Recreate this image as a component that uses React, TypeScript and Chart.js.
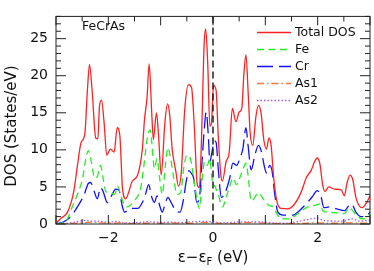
import React, { useEffect, useRef } from 'react';
import { Chart, registerables } from 'chart.js';

Chart.register(...registerables);

// ---- data ----
const totalE = [-3.0, -2.97, -2.9, -2.78, -2.66, -2.59, -2.52, -2.45, -2.40, -2.36, -2.31, -2.24, -2.20, -2.17, -2.13, -2.08, -2.03, -1.96, -1.89, -1.83, -1.78, -1.73, -1.67, -1.54, -1.44, -1.35, -1.31, -1.26, -1.22, -1.17, -1.14, -1.08, -1.04, -0.99, -0.92, -0.87, -0.83, -0.78, -0.71, -0.66, -0.61, -0.54, -0.47, -0.41, -0.36, -0.30, -0.26, -0.22, -0.17, -0.14, -0.10, -0.06, -0.03, 0.01, 0.06, 0.10, 0.15, 0.18, 0.25, 0.31, 0.37, 0.44, 0.50, 0.55, 0.59, 0.63, 0.67, 0.71, 0.76, 0.82, 0.87, 0.92, 0.97, 1.02, 1.07, 1.11, 1.16, 1.22, 1.30, 1.43, 1.56, 1.69, 1.78, 1.88, 1.94, 1.99, 2.04, 2.10, 2.14, 2.21, 2.32, 2.45, 2.51, 2.56, 2.62, 2.67, 2.73, 2.79, 2.85, 2.92, 3.0];
const totalDos = [0, 0.3, 0.8, 1.6, 4.4, 7.9, 11, 12.1, 18, 21.5, 18, 11.6, 11.5, 15.8, 16.7, 13.6, 9.3, 10.1, 9.7, 13.0, 11.9, 4.9, 3.4, 5.8, 6.6, 10.1, 14, 17.1, 21.6, 14.9, 11.4, 15.0, 11.9, 6.6, 13.6, 16.2, 14.9, 10.1, 7.1, 5.1, 6.6, 15.4, 18.8, 18.4, 13.6, 5.3, 4.9, 11.4, 24.1, 26.3, 21.5, 13.2, 13.6, 18.7, 18, 11.9, 6.6, 5.8, 8.4, 9.7, 15.6, 13.8, 15.1, 15.6, 20.2, 22.8, 18, 12.3, 10.6, 14.5, 16.0, 14.9, 11.4, 10.1, 11.6, 10.6, 6.2, 3.1, 2.1, 2.05, 2.7, 4.4, 6.2, 7.3, 8.4, 8.9, 8.2, 5.1, 4.4, 5.0, 4.7, 4.6, 3.8, 5.5, 6.6, 6.0, 3.6, 2.5, 2.2, 2.7, 3.8];

const feE = [-3.0, -2.9, -2.78, -2.69, -2.59, -2.49, -2.43, -2.38, -2.32, -2.26, -2.21, -2.15, -2.10, -2.05, -1.96, -1.88, -1.82, -1.77, -1.70, -1.65, -1.51, -1.38, -1.32, -1.26, -1.20, -1.17, -1.12, -1.07, -1.02, -0.97, -0.91, -0.86, -0.82, -0.75, -0.69, -0.62, -0.56, -0.50, -0.43, -0.37, -0.30, -0.26, -0.21, -0.16, -0.11, -0.06, -0.02, 0.05, 0.10, 0.18, 0.26, 0.32, 0.38, 0.45, 0.51, 0.57, 0.63, 0.67, 0.73, 0.80, 0.86, 0.92, 0.99, 1.07, 1.15, 1.22, 1.30, 1.46, 1.62, 1.81, 1.94, 2.04, 2.10, 2.19, 2.38, 2.51, 2.60, 2.67, 2.76, 2.88, 3.0];
const feDos = [0, 0.1, 0.7, 2.3, 4.0, 6.2, 8.8, 9.9, 8.2, 6.2, 6.4, 7.9, 6.2, 4.4, 4.2, 4.0, 5.1, 4.0, 2.7, 2.3, 3.1, 4.9, 7.9, 11.4, 12.7, 11.0, 7.5, 8.8, 6.2, 4.0, 7.9, 10.3, 9.3, 6.2, 4.0, 4.2, 7.5, 9.3, 8.8, 6.2, 3.1, 2.1, 5.8, 8.4, 7.9, 8.8, 6.2, 4.9, 4.0, 2.3, 3.8, 5.1, 6.2, 5.3, 6.2, 7.3, 8.2, 6.6, 3.1, 3.6, 4.2, 3.8, 3.1, 2.5, 2.3, 1.4, 0.7, 0.7, 1.4, 2.3, 2.5, 2.7, 1.8, 1.6, 1.5, 1.4, 2.2, 1.8, 1.0, 0.7, 1.4];

const crE = [-3.0, -2.85, -2.72, -2.59, -2.46, -2.38, -2.34, -2.27, -2.21, -2.15, -2.10, -2.02, -1.94, -1.86, -1.80, -1.73, -1.69, -1.57, -1.44, -1.35, -1.29, -1.23, -1.17, -1.12, -1.07, -1.02, -0.97, -0.91, -0.86, -0.80, -0.71, -0.63, -0.57, -0.51, -0.46, -0.41, -0.37, -0.31, -0.26, -0.21, -0.17, -0.13, -0.09, -0.06, -0.02, 0.03, 0.06, 0.10, 0.16, 0.23, 0.32, 0.38, 0.45, 0.52, 0.57, 0.63, 0.67, 0.73, 0.80, 0.87, 0.92, 0.99, 1.03, 1.08, 1.13, 1.18, 1.24, 1.34, 1.53, 1.62, 1.78, 1.91, 1.99, 2.06, 2.12, 2.22, 2.38, 2.51, 2.60, 2.65, 2.73, 2.83, 2.92, 3.0];
const crDos = [0, 0.3, 1.0, 2.3, 4.0, 5.5, 5.6, 4.4, 3.4, 4.9, 4.4, 2.9, 3.8, 4.7, 4.6, 2.3, 1.6, 2.1, 2.1, 2.9, 4.0, 5.3, 3.6, 2.9, 3.8, 2.5, 1.6, 2.9, 3.6, 2.9, 1.8, 1.6, 3.1, 5.8, 7.2, 6.8, 6.2, 2.9, 3.5, 8.4, 12.5, 15.1, 12.0, 8.4, 9.7, 11.2, 11.0, 7.5, 3.6, 4.2, 6.2, 8.2, 7.9, 9.0, 10.1, 13.0, 10.6, 7.3, 9.3, 10.6, 9.9, 7.5, 6.8, 7.9, 7.1, 4.0, 1.6, 1.2, 1.2, 1.6, 2.7, 3.8, 4.5, 3.8, 2.2, 2.3, 2.0, 1.8, 2.5, 2.7, 1.6, 1.0, 1.0, 1.6];

const as1E = [-3.0, -2.8, -2.5, -2.35, -2.2, -2.0, -1.8, -1.6, -1.3, -1.2, -1.0, -0.8, -0.5, -0.3, -0.15, 0.0, 0.2, 0.5, 0.65, 0.9, 1.1, 1.3, 1.6, 2.0, 2.3, 2.6, 3.0];
const as1Dos = [0, 0.05, 0.15, 0.25, 0.2, 0.1, 0.15, 0.05, 0.1, 0.15, 0.1, 0.15, 0.1, 0.15, 0.2, 0.15, 0.05, 0.1, 0.2, 0.15, 0.1, 0.05, 0.05, 0.15, 0.1, 0.15, 0.1];

const as2E = [-3.0, -2.8, -2.6, -2.45, -2.35, -2.2, -2.0, -1.85, -1.7, -1.4, -1.2, -1.0, -0.8, -0.6, -0.4, -0.2, 0.0, 0.2, 0.4, 0.6, 0.8, 1.0, 1.2, 1.4, 1.6, 1.8, 2.0, 2.1, 2.3, 2.5, 2.65, 2.8, 3.0];
const as2Dos = [0, 0.1, 0.3, 0.5, 0.4, 0.4, 0.25, 0.35, 0.15, 0.2, 0.3, 0.2, 0.25, 0.2, 0.3, 0.35, 0.3, 0.15, 0.25, 0.3, 0.3, 0.25, 0.1, 0.1, 0.3, 0.6, 0.8, 0.5, 0.4, 0.4, 0.7, 0.4, 0.5];

const seriesNames = ['Total DOS', 'Fe', 'Cr', 'As1', 'As2'];
const xTickValues = [-2, 0, 2];
const yTickValues = [0, 5, 10, 15, 20, 25];
const compoundLabel = 'FeCrAs';
const yTitle = 'DOS (States/eV)';

const FONT = '"DejaVu Sans", "Liberation Sans", sans-serif';

const styles = [
  { color: '#ff2222', dash: [] as number[] },
  { color: '#22ee22', dash: [7, 4.5] },
  { color: '#1111ff', dash: [16, 6] },
  { color: '#f47a40', dash: [7, 3, 1.5, 3] },
  { color: '#a455f5', dash: [1.5, 2] },
];

const pts = (xs: number[], ys: number[]) => xs.map((x, i) => ({ x, y: ys[i] }));

export default function App() {
  const ref = useRef<HTMLCanvasElement>(null);

  useEffect(() => {
    const canvas = ref.current;
    if (!canvas) return;

    const decor = {
      id: 'decor',
      afterDatasetsDraw(chart: any) {
        const ctx = chart.ctx as CanvasRenderingContext2D;
        const { left, right, top, bottom } = chart.chartArea;
        const xs = chart.scales.x;
        const ys = chart.scales.y;
        ctx.save();
        // Fermi level dashed line
        const x0 = xs.getPixelForValue(0);
        ctx.strokeStyle = '#111';
        ctx.lineWidth = 1.4;
        ctx.setLineDash([7, 4]);
        ctx.beginPath();
        ctx.moveTo(x0, top);
        ctx.lineTo(x0, bottom);
        ctx.stroke();
        ctx.setLineDash([]);

        // frame
        ctx.strokeStyle = '#222';
        ctx.lineWidth = 1;
        ctx.strokeRect(left, top, right - left, bottom - top);

        // ticks
        ctx.beginPath();
        for (let i = -6; i <= 6; i++) {
          const v = i / 2;
          const len = i % 2 === 0 ? 9 : 5;
          const px = xs.getPixelForValue(v);
          ctx.moveTo(px, bottom);
          ctx.lineTo(px, bottom - len);
          ctx.moveTo(px, top);
          ctx.lineTo(px, top + len);
        }
        for (let v = 0; v <= 28; v++) {
          const len = v % 5 === 0 ? 10 : 5;
          const py = ys.getPixelForValue(v);
          ctx.moveTo(left, py);
          ctx.lineTo(left + len, py);
          ctx.moveTo(right, py);
          ctx.lineTo(right - len, py);
        }
        ctx.stroke();
        ctx.restore();
      },
      afterDraw(chart: any) {
        const ctx = chart.ctx as CanvasRenderingContext2D;
        const { left, right } = chart.chartArea;
        ctx.save();
        ctx.fillStyle = '#111';
        // compound label
        ctx.font = `12.5px ${FONT}`;
        ctx.textAlign = 'left';
        ctx.textBaseline = 'middle';
        ctx.fillText(compoundLabel, 82, 27);

        // legend
        const rowY = [32.5, 49.5, 66.5, 83.5, 100.5];
        seriesNames.forEach((name, i) => {
          const st = styles[i];
          ctx.strokeStyle = st.color;
          ctx.lineWidth = 1.3;
          ctx.setLineDash(st.dash);
          ctx.beginPath();
          ctx.moveTo(257, rowY[i]);
          ctx.lineTo(291, rowY[i]);
          ctx.stroke();
          ctx.setLineDash([]);
          ctx.fillStyle = '#111';
          ctx.fillText(name, 295, rowY[i]);
        });

        // y title
        ctx.save();
        ctx.translate(12, 126);
        ctx.rotate(-Math.PI / 2);
        ctx.font = `15px ${FONT}`;
        ctx.textAlign = 'center';
        ctx.textBaseline = 'middle';
        ctx.fillText(yTitle, 0, 0);
        ctx.restore();

        // x title: ε−ε_F (eV)
        const big = `15px ${FONT}`;
        const small = `10px ${FONT}`;
        const p1 = '\u03b5\u2212\u03b5';
        const p2 = 'F';
        const p3 = ' (eV)';
        ctx.textAlign = 'left';
        ctx.textBaseline = 'alphabetic';
        ctx.font = big;
        const w1 = ctx.measureText(p1).width;
        const w3 = ctx.measureText(p3).width;
        ctx.font = small;
        const w2 = ctx.measureText(p2).width;
        const cx = (left + right) / 2;
        let x = cx - (w1 + w2 + w3) / 2;
        const base = 262;
        ctx.font = big;
        ctx.fillText(p1, x, base);
        x += w1;
        ctx.font = small;
        ctx.fillText(p2, x, base + 3);
        x += w2;
        ctx.font = big;
        ctx.fillText(p3, x, base);
        ctx.restore();
      },
    };

    const mk = (i: number, xs: number[], ys: number[]) => ({
      label: seriesNames[i],
      data: pts(xs, ys),
      borderColor: styles[i].color,
      borderDash: styles[i].dash,
      borderWidth: 1.3,
      pointRadius: 0,
      fill: false,
      cubicInterpolationMode: 'monotone' as const,
    });

    const chart = new Chart(canvas, {
      type: 'line',
      data: {
        datasets: [
          mk(0, totalE, totalDos),
          mk(1, feE, feDos),
          mk(2, crE, crDos),
          mk(3, as1E, as1Dos),
          mk(4, as2E, as2Dos),
        ],
      },
      options: {
        animation: false,
        responsive: true,
        maintainAspectRatio: false,
        layout: { padding: { top: 10, right: 4, bottom: 0, left: 0 } },
        plugins: { legend: { display: false }, tooltip: { enabled: false } },
        scales: {
          x: {
            type: 'linear',
            min: -3,
            max: 3,
            afterBuildTicks: (s: any) => {
              s.ticks = xTickValues.map((v) => ({ value: v }));
            },
            afterFit: (s: any) => {
              s.height = 47;
            },
            grid: { display: false, drawTicks: false },
            border: { display: false },
            ticks: {
              font: { family: FONT, size: 14 },
              color: '#111',
              padding: 6,
              maxRotation: 0,
              autoSkip: false,
              callback: (v: any) => String(v).replace('-', '\u2212'),
            },
          },
          y: {
            type: 'linear',
            min: 0,
            max: 28,
            afterBuildTicks: (s: any) => {
              s.ticks = yTickValues.map((v) => ({ value: v }));
            },
            afterFit: (s: any) => {
              s.width = 56;
            },
            grid: { display: false, drawTicks: false },
            border: { display: false },
            ticks: {
              font: { family: FONT, size: 14 },
              color: '#111',
              padding: 8,
              autoSkip: false,
            },
          },
        },
      },
      plugins: [decor],
    });

    return () => chart.destroy();
  }, []);

  return (
    <div style={{ position: 'fixed', left: 0, top: 0, width: 374, height: 271, background: '#fff' }}>
      <canvas ref={ref} />
    </div>
  );
}
